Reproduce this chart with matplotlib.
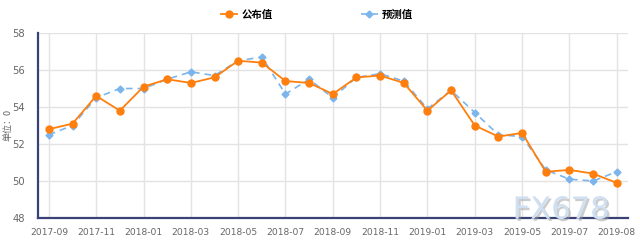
import matplotlib
matplotlib.use("Agg")
import matplotlib.pyplot as plt
import matplotlib.patheffects as pe

plt.rcParams['font.family'] = ['Noto Sans CJK SC', 'DejaVu Sans']

months = ['2017-09', '2017-10', '2017-11', '2017-12', '2018-01', '2018-02', '2018-03',
          '2018-04', '2018-05', '2018-06', '2018-07', '2018-08', '2018-09', '2018-10',
          '2018-11', '2018-12', '2019-01', '2019-02', '2019-03', '2019-04', '2019-05',
          '2019-06', '2019-07', '2019-07', '2019-08']
published = [52.8, 53.1, 54.6, 53.8, 55.1, 55.5, 55.3, 55.6, 56.5, 56.4, 55.4, 55.3, 54.7,
             55.6, 55.7, 55.3, 53.8, 54.9, 53.0, 52.4, 52.6, 50.5, 50.6, 50.4, 49.9]
forecast = [52.5, 53.0, 54.5, 55.0, 55.0, 55.5, 55.9, 55.7, 56.5, 56.7, 54.7, 55.5, 54.5,
            55.6, 55.8, 55.4, 53.9, 54.9, 53.7, 52.5, 52.4, 50.6, 50.1, 50.0, 50.5]
yticks = [48, 50, 52, 54, 56, 58]

fig = plt.figure(figsize=(6.4, 2.5), dpi=100)
ax = fig.add_axes([0.059, 0.128, 0.922, 0.74])

x = list(range(len(months)))
ax.plot(x, forecast, color='#7cb5ec', linestyle=(0, (4, 3)), linewidth=1.2,
        marker='D', markersize=3.5, label='预测值', zorder=3)
ax.plot(x, published, color='#ff7f0e', linewidth=1.3, marker='o', markersize=5,
        label='公布值', zorder=4)

tick_idx = list(range(0, len(months) - 1, 2)) + [len(months) - 1]
ax.set_xticks(tick_idx)
ax.set_xticklabels([months[i] for i in tick_idx], fontsize=6.6, color='#666666',
                   family='DejaVu Sans')
ax.set_xlim(-0.47, len(months) - 1 + 0.47)
ax.set_ylim(48, 58)
ax.set_yticks(yticks)
ax.set_yticklabels([str(v) for v in yticks], fontsize=7.2, color='#666666',
                   family='DejaVu Sans')
ax.tick_params(length=0, pad=7)
ax.tick_params(axis='y', pad=9)

ax.grid(True, color='#e3e3e3', linewidth=1)
ax.set_axisbelow(True)
for s in ['top', 'right']:
    ax.spines[s].set_visible(False)
for s in ['left', 'bottom']:
    ax.spines[s].set_color('#3a4275')
    ax.spines[s].set_linewidth(1.6)

fig.text(0.012, 0.5, '单位：0', rotation=90, fontsize=6.5, color='#666666',
         va='center', ha='center')

handles, labels = ax.get_legend_handles_labels()
fig.legend(handles[::-1], labels[::-1], loc='upper center', ncol=2, frameon=False,
           bbox_to_anchor=(0.495, 1.0), columnspacing=8.5,
           handlelength=1.6, handletextpad=0.4, prop={'weight': 'bold', 'size': 7.5})

fig.text(0.952, 0.125, 'FX678', fontsize=22, color='#cfe0f2', ha='right',
         va='baseline', family='DejaVu Sans', zorder=10,
         path_effects=[pe.withSimplePatchShadow(offset=(1.5, -1.5),
                                                shadow_rgbFace='#9a9a9a', alpha=0.5)])

fig.savefig('out.png', dpi=100)
